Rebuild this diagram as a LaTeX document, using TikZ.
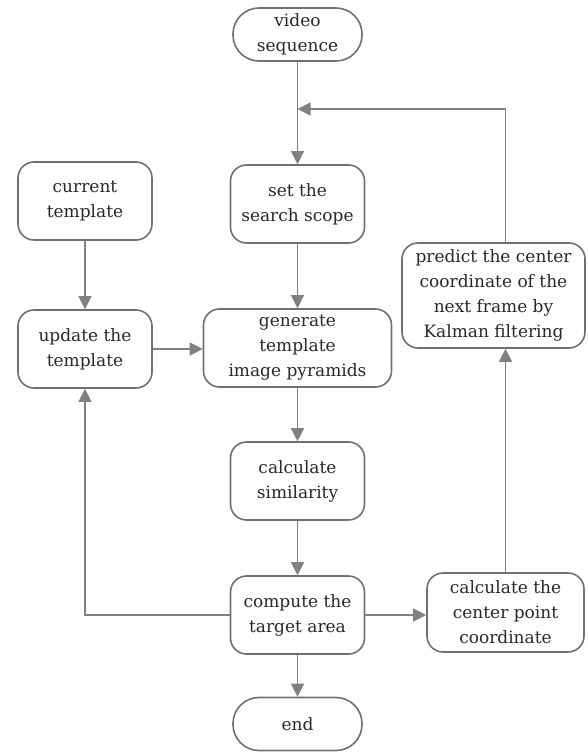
\documentclass[tikz,border=0pt]{standalone}
\usepackage{fontspec}
\setmainfont{DejaVu Serif}
\usetikzlibrary{arrows.meta}
\definecolor{boxgray}{RGB}{112,112,116}
\definecolor{linegray}{RGB}{128,128,132}
\definecolor{textgray}{RGB}{40,40,40}

\begin{document}
\begin{tikzpicture}[x=1pt,y=-1pt,
    stepbox/.style={draw=boxgray, line width=1.6pt, rounded corners=16pt, align=center,
      minimum width=134pt, minimum height=78pt, inner sep=0pt, text=textgray,
      font=\fontsize{17}{25}\selectfont},
    termbox/.style={stepbox, rounded corners=26pt, minimum width=129pt, minimum height=53pt},
    flow/.style={draw=linegray, line width=1.2pt, -{Triangle[length=13pt,width=13pt]}}]
		% Define the page size
		\useasboundingbox (0,0) rectangle (587,752);

		% Place the boxes
		\node[termbox] (video) at (297.5,34.5) {video\\sequence};
		\node[stepbox] (current) at (85,201) {current\\template};
		\node[stepbox] (scope) at (297.5,204) {set the\\search scope};
		\node[stepbox] (update) at (85,349) {update the\\template};
		\node[stepbox, minimum width=188pt] (pyramid) at (297.5,348) {generate\\template\\image pyramids};
		\node[stepbox, minimum width=183pt, minimum height=105pt] (predict) at (493.5,295.5) {predict the center\\coordinate of the\\next frame by\\Kalman filtering};
		\node[stepbox] (similar) at (297.5,481) {calculate\\similarity};
		\node[stepbox] (target) at (297.5,615) {compute the\\target area};
		\node[stepbox, minimum width=157pt, minimum height=79pt] (center) at (505.5,612.5) {calculate the\\center point\\coordinate};
		\node[termbox] (end) at (297.5,724) {end};
		\coordinate (merge) at (297.5,109);

		% Draw the arrows
		\foreach \from/\to in {video/scope, current/update, scope/pyramid, pyramid/similar, similar/target, target/end}
			\draw[flow] (\from) -- (\to);
		\draw[flow] (update.east) -- (update.east -| pyramid.west);
		\draw[flow] (target.east) -- (target.east -| center.west);
		\draw[flow] (target.west) -| (update.south);
		\draw[flow] (center.north) -- (center.north |- predict.south);
		\draw[flow] (center.north |- predict.north) |- (merge);
	\end{tikzpicture}
\end{document}
